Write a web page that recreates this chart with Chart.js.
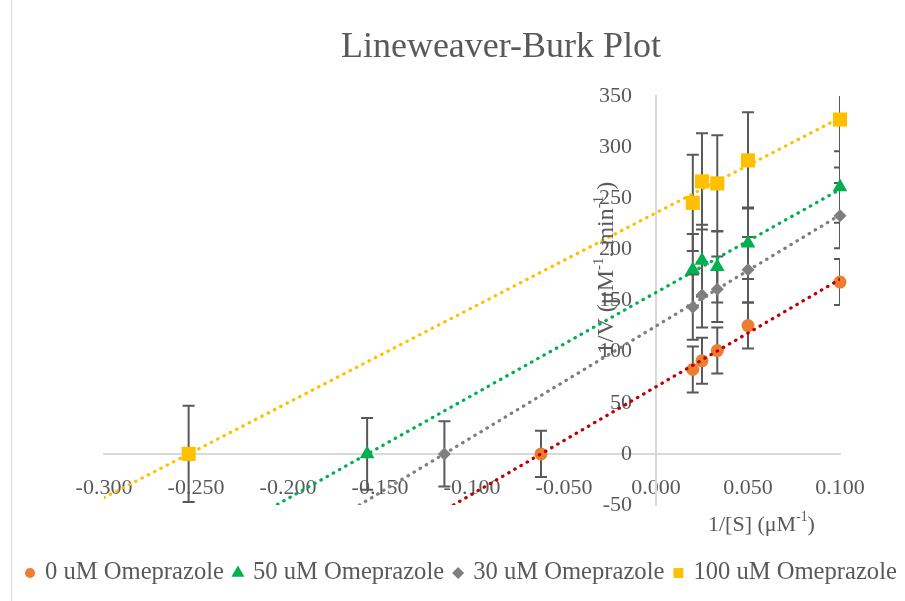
<!DOCTYPE html>
<html>
<head>
<meta charset="utf-8">
<script src="https://cdn.jsdelivr.net/npm/chart.js@4.4.1/dist/chart.umd.min.js"></script>
<style>
  html, body { margin: 0; padding: 0; background: #fff; }
</style>
</head>
<body>
<canvas id="lbChart" width="905" height="601"></canvas>
<script>
// --- data ---
const seriesNames = ["0 uM Omeprazole", "50 uM Omeprazole", "30 uM Omeprazole", "100 uM Omeprazole"];
const invS = [0.02, 0.025, 0.0333, 0.05, 0.1];            // 1/[S]
const xIntercepts = [-0.0625, -0.157, -0.115, -0.254];     // -1/Km points, drawn at 1/V = 0
const invV0 = [82.5, 91, 101, 125.5, 168];
const invV50 = [180, 189, 183, 206, 261];
const invV30 = [143.5, 155.5, 161, 180, 233];
const invV100 = [245.5, 266.5, 264.5, 287, 327];
const errors = [22.5, 35, 32, 47];
const xTicks = [-0.3, -0.25, -0.2, -0.15, -0.1, -0.05, 0, 0.05, 0.1];
const yTicks = [-50, 0, 50, 100, 150, 200, 250, 300, 350];

const seriesValues = [invV0, invV50, invV30, invV100];
const markerColors = ["#ED7D31", "#00B050", "#7F7F7F", "#FFC000"];
const trendColors = ["#C00000", "#00B050", "#7F7F7F", "#FFC000"];
const markerStyles = ["circle", "triangle", "rectRot", "rect"];
const markerSizes = [6.5, 8.5, 6.5, 10];

const FONT = "'Liberation Serif', 'Times New Roman', serif";
const TEXT = "#595959";

const points = seriesValues.map((vals, s) =>
  [{ x: xIntercepts[s], y: 0 }].concat(invS.map((x, i) => ({ x, y: vals[i] })))
);

// least squares line through each series, like Excel's linear trendline
function fitLine(pts) {
  const n = pts.length;
  const mx = pts.reduce((a, p) => a + p.x, 0) / n;
  const my = pts.reduce((a, p) => a + p.y, 0) / n;
  let sxy = 0, sxx = 0;
  pts.forEach((p) => { sxy += (p.x - mx) * (p.y - my); sxx += (p.x - mx) * (p.x - mx); });
  const slope = sxy / sxx;
  return { slope, icpt: my - slope * mx };
}

const xMin = xTicks[0], xMax = xTicks[xTicks.length - 1];
const trendSets = points.map((pts, s) => {
  const f = fitLine(pts);
  return {
    type: "line",
    label: "trend " + s,
    data: [xMin, xMax].map((x) => ({ x, y: f.icpt + f.slope * x })),
    borderColor: trendColors[s],
    borderWidth: 3.2,
    borderDash: [0.5, 6.6],
    borderCapStyle: "round",
    pointRadius: 0,
    fill: false,
    clip: 0,
    order: 0,
  };
});

const scatterSets = points.map((pts, s) => ({
  type: "scatter",
  label: seriesNames[s],
  data: pts,
  pointStyle: markerStyles[s],
  pointRadius: markerSizes[s],
  backgroundColor: markerColors[s],
  borderColor: markerColors[s],
  borderWidth: 0,
  clip: false,
  order: 1,
}));

// draw text made of runs, some of them superscript
function runsWidth(ctx, runs, size) {
  let w = 0;
  runs.forEach(([t, sup]) => {
    ctx.font = (sup ? size * 0.62 : size) + "px " + FONT;
    w += ctx.measureText(t).width;
  });
  return w;
}
function drawRuns(ctx, runs, x, y, size) {
  let cx = x;
  runs.forEach(([t, sup]) => {
    ctx.font = (sup ? size * 0.62 : size) + "px " + FONT;
    ctx.fillText(t, cx, sup ? y - size * 0.33 : y);
    cx += ctx.measureText(t).width;
  });
}

const decor = {
  id: "decor",
  beforeDatasetsDraw(chart) {
    const { ctx, chartArea, scales } = chart;
    ctx.save();
    // y tick labels sit left of the crossing axis
    ctx.fillStyle = TEXT;
    ctx.font = "22px " + FONT;
    ctx.textAlign = "right";
    ctx.textBaseline = "middle";
    const axisX = scales.x.getPixelForValue(0);
    yTicks.forEach((v) => ctx.fillText(String(v), axisX - 24, scales.y.getPixelForValue(v)));

    ctx.beginPath();
    ctx.rect(chartArea.left, chartArea.top, chartArea.right - chartArea.left, chartArea.bottom - chartArea.top);
    ctx.clip();
    ctx.strokeStyle = "#595959";
    ctx.lineWidth = 2;
    points.forEach((pts, s) => {
      pts.forEach((p) => {
        const px = scales.x.getPixelForValue(p.x);
        const hi = scales.y.getPixelForValue(p.y + errors[s]);
        const lo = scales.y.getPixelForValue(p.y - errors[s]);
        ctx.beginPath();
        ctx.moveTo(px, hi); ctx.lineTo(px, lo);
        ctx.moveTo(px - 6, hi); ctx.lineTo(px + 6, hi);
        ctx.moveTo(px - 6, lo); ctx.lineTo(px + 6, lo);
        ctx.stroke();
      });
    });
    ctx.restore();
  },
  afterDraw(chart) {
    const { ctx } = chart;
    ctx.save();
    // chart border at left
    ctx.strokeStyle = "#d9d9d9";
    ctx.lineWidth = 1;
    ctx.beginPath(); ctx.moveTo(11.5, 0); ctx.lineTo(11.5, 601); ctx.stroke();

    ctx.fillStyle = TEXT;
    ctx.textBaseline = "middle";
    ctx.textAlign = "center";
    ctx.font = "36px " + FONT;
    ctx.fillText("Lineweaver-Burk Plot", 501, 48);

    ctx.textAlign = "left";
    const xTitle = [["1/[S] (μM", 0], ["-1", 1], [")", 0]];
    drawRuns(ctx, xTitle, 708, 525, 22);

    const yTitle = [["1/V (μM", 0], ["-1", 1], [". min", 0], ["-1", 1], [" )", 0]];
    ctx.save();
    ctx.translate(607, 268);
    ctx.rotate(-Math.PI / 2);
    drawRuns(ctx, yTitle, -runsWidth(ctx, yTitle, 24) / 2, 0, 24);
    ctx.restore();

    // legend
    const legendSizes = [5, 7.5, 6, 7];
    let lx = 30;
    const ly = 573;
    seriesNames.forEach((name, s) => {
      ctx.fillStyle = markerColors[s];
      Chart.helpers.drawPoint(ctx, { pointStyle: markerStyles[s], radius: legendSizes[s], rotation: 0, borderWidth: 0 }, lx, ly);
      ctx.fillStyle = TEXT;
      ctx.font = "24.6px " + FONT;
      ctx.fillText(name, lx + 15, ly);
      lx += 15 + ctx.measureText(name).width + 14;
    });
    ctx.restore();
  },
};

const tickFont = { family: FONT, size: 22 };

new Chart(document.getElementById("lbChart"), {
  data: { datasets: scatterSets.concat(trendSets) },
  options: {
    responsive: false,
    animation: false,
    devicePixelRatio: 1,
    layout: { padding: { left: 104, right: 65, top: 96, bottom: 96 } },
    plugins: {
      legend: { display: false },
      title: { display: false },
      tooltip: { enabled: false },
    },
    scales: {
      x: {
        type: "linear",
        position: { y: 0 },
        min: xMin,
        max: xMax,
        afterBuildTicks: (scale) => { scale.ticks = xTicks.map((v) => ({ value: v })); },
        grid: { display: false, drawTicks: false },
        border: { display: true, color: "#d9d9d9", width: 2 },
        ticks: {
          padding: 21,
          color: TEXT,
          font: tickFont,
          autoSkip: false,
          maxRotation: 0,
          callback: (v) => v.toFixed(3),
        },
      },
      y: {
        type: "linear",
        position: { x: 0 },
        min: yTicks[0],
        max: yTicks[yTicks.length - 1],
        afterBuildTicks: (scale) => { scale.ticks = yTicks.map((v) => ({ value: v })); },
        grid: { display: false, drawTicks: false },
        border: { display: true, color: "#d9d9d9", width: 2 },
        ticks: { display: false },
      },
    },
  },
  plugins: [decor],
});
</script>
</body>
</html>
